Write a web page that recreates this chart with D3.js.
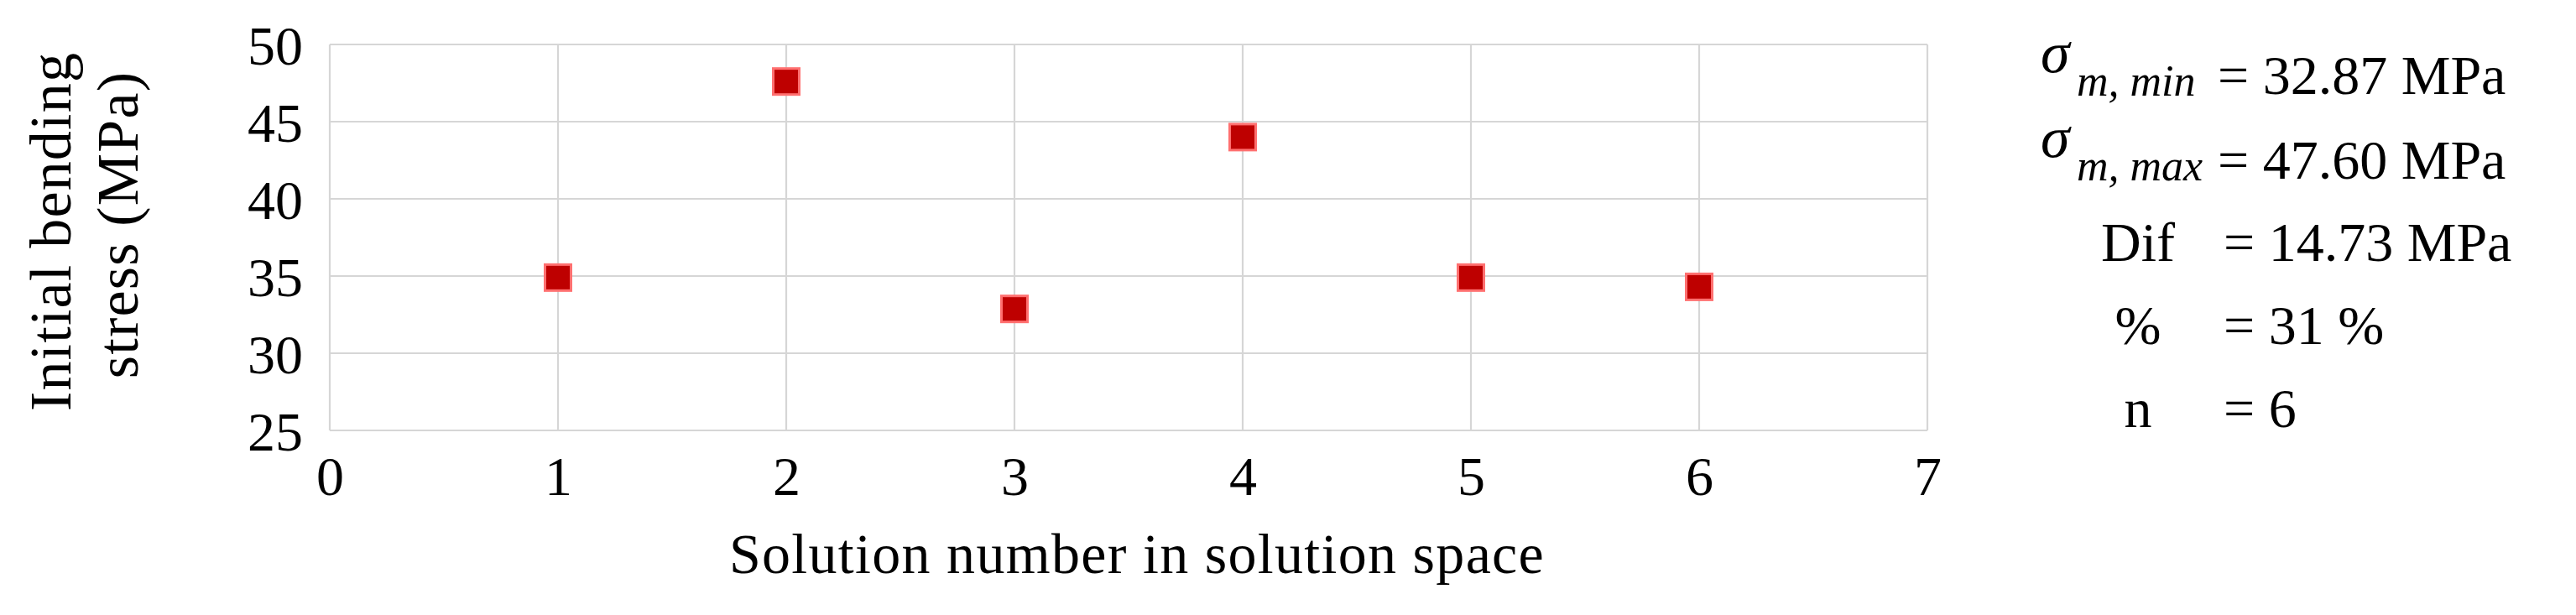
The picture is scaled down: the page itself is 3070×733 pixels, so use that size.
<!DOCTYPE html>
<html>
<head>
<meta charset="utf-8">
<script src="https://cdn.jsdelivr.net/npm/d3@7"></script>
<style>
  body { margin: 0; background: #fff; }
  text { font-family: "Liberation Serif", "DejaVu Serif", serif; fill: #000; }
</style>
</head>
<body>
<div id="chart"></div>
<script>
// chart data
var solutions = [1, 2, 3, 4, 5, 6];
var stress = [34.9, 47.6, 32.87, 44.0, 34.9, 34.3];
var xTicks = [0, 1, 2, 3, 4, 5, 6, 7];
var yTicks = [25, 30, 35, 40, 45, 50];

// summary box text
var statLabels = ["Dif", "%", "n"];
var statValues = ["= 14.73 MPa", "= 31 %", "= 6"];
var sigmaSubs = ["m, min", "m, max"];
var sigmaValues = ["= 32.87 MPa", "= 47.60 MPa"];

var svgWidth = 3070;
var svgHeight = 733;

var margin = { top: 53, right: 773, bottom: 220, left: 393 };
var width = svgWidth - margin.left - margin.right;
var height = svgHeight - margin.top - margin.bottom;

var svg = d3.select("#chart")
  .append("svg")
  .attr("width", svgWidth)
  .attr("height", svgHeight);

var chartGroup = svg.append("g")
  .attr("transform", `translate(${margin.left}, ${margin.top})`);

var xScale = d3.scaleLinear().domain([0, 7]).range([0, width]);
var yScale = d3.scaleLinear().domain([25, 50]).range([height, 0]);

// gridlines
chartGroup.append("g")
  .selectAll("line")
  .data(yTicks)
  .enter()
  .append("line")
  .attr("x1", 0)
  .attr("x2", width)
  .attr("y1", d => yScale(d))
  .attr("y2", d => yScale(d))
  .attr("stroke", "#d6d6d6")
  .attr("stroke-width", 2.2);

chartGroup.append("g")
  .selectAll("line")
  .data(xTicks)
  .enter()
  .append("line")
  .attr("x1", d => xScale(d))
  .attr("x2", d => xScale(d))
  .attr("y1", 0)
  .attr("y2", height)
  .attr("stroke", "#d6d6d6")
  .attr("stroke-width", 2.2);

// axes (labels only, lines come from the grid)
var xAxis = d3.axisBottom(xScale).tickValues(xTicks).tickSize(0).tickPadding(32).tickFormat(d3.format("d"));
var yAxis = d3.axisLeft(yScale).tickValues(yTicks).tickSize(0).tickPadding(32).tickFormat(d3.format("d"));

var xg = chartGroup.append("g")
  .attr("transform", `translate(0, ${height})`)
  .call(xAxis);
var yg = chartGroup.append("g").call(yAxis);

[xg, yg].forEach(function(g) {
  g.select(".domain").remove();
  g.selectAll("text")
    .style("font-family", "'Liberation Serif', serif")
    .style("font-size", "66px")
    .attr("fill", "#000");
});
yg.selectAll("text").attr("dy", "0.36em");
xg.selectAll("text").attr("dy", "0.68em");

// markers
var size = 31;
chartGroup.selectAll("rect.pt")
  .data(solutions)
  .enter()
  .append("rect")
  .attr("class", "pt")
  .attr("x", (d, i) => xScale(d) - size / 2)
  .attr("y", (d, i) => yScale(stress[i]) - size / 2)
  .attr("width", size)
  .attr("height", size)
  .attr("fill", "#be0000")
  .attr("stroke", "#ff7070")
  .attr("stroke-width", 3);

// x axis title
chartGroup.append("text")
  .attr("x", width / 2 + 10)
  .attr("y", 683 - margin.top)
  .attr("text-anchor", "middle")
  .style("font-size", "68px")
  .style("letter-spacing", "1.3px")
  .text("Solution number in solution space");

// y axis title
var yTitle = svg.append("text")
  .attr("transform", "rotate(-90)")
  .attr("text-anchor", "middle")
  .style("font-size", "70px")
  .style("letter-spacing", "1.2px");
yTitle.append("tspan")
  .attr("x", -276)
  .attr("y", 84)
  .text("Initial bending");
yTitle.append("tspan")
  .attr("x", -268)
  .attr("y", 164)
  .text("stress (MPa)");

// summary on the right
var stats = svg.append("g");

sigmaSubs.forEach(function(sub, i) {
  var base = 112 + i * 101;
  stats.append("text")
    .attr("x", 2432)
    .attr("y", base - 26)
    .style("font-size", "70px")
    .style("font-style", "italic")
    .text("σ");
  stats.append("text")
    .attr("x", 2475)
    .attr("y", base + 2)
    .style("font-size", "52px")
    .style("font-style", "italic")
    .text(sub);
  stats.append("text")
    .attr("x", 2643)
    .attr("y", base)
    .style("font-size", "66px")
    .text(sigmaValues[i]);
});

statLabels.forEach(function(lab, i) {
  var base = 311 + i * 99;
  stats.append("text")
    .attr("x", 2548)
    .attr("y", base)
    .attr("text-anchor", "middle")
    .style("font-size", "66px")
    .text(lab);
  stats.append("text")
    .attr("x", 2650)
    .attr("y", base)
    .style("font-size", "66px")
    .text(statValues[i]);
});
</script>
</body>
</html>
